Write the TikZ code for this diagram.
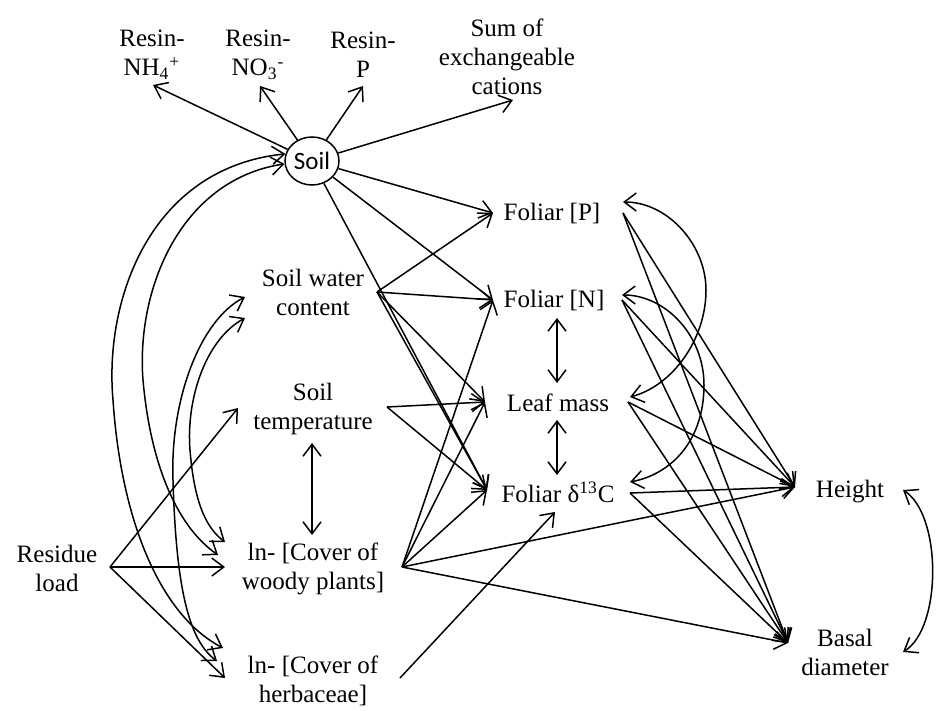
\documentclass[tikz,border=0pt]{standalone}
\usepackage{fontspec}
\setmainfont{Liberation Serif}
\newfontfamily\soilfont{Carlito}
\usetikzlibrary{arrows.meta,shapes.geometric}
\begin{document}
\begin{tikzpicture}[x=0.5pt,y=-0.5pt,
  lbl/.style={align=center,font=\fontsize{12.5}{14.5}\selectfont,inner sep=0pt},
  soilnode/.style={ellipse,draw,line width=0.75pt,minimum width=27pt,minimum height=24pt,inner sep=0pt,font=\soilfont\fontsize{12.5}{14.5}\selectfont},
  arr/.style={line width=0.75pt,-{Straight Barb[length=6pt,width=9pt]}},
  dbl/.style={line width=0.75pt,{Straight Barb[length=6pt,width=9pt]}-{Straight Barb[length=6pt,width=9pt]}}]

\fill[white] (0,0) rectangle (936,711);
\useasboundingbox (0,0) rectangle (936,711);

% ---------- nodes ----------
\node[lbl] (rnh) at (152,55) {Resin-\\NH\textsubscript{4}\textsuperscript{+}};
\node[lbl] (rno) at (258,55) {Resin-\\NO\textsubscript{3}\textsuperscript{-}};
\node[lbl] (rp)  at (363,55) {Resin-\\P};
\node[lbl] (sum) at (507,57) {Sum of\\exchangeable\\cations};
\node[soilnode] (soil) at (312,161) {Soil};

\node[lbl] (swc) at (313,292) {Soil water\\content};
\node[lbl] (st)  at (313,409) {Soil\\temperature};
\node[lbl] (cw)  at (313,569) {ln- [Cover of\\woody plants]};
\node[lbl] (ch)  at (313,681) {ln- [Cover of\\herbaceae]};
\node[lbl] (rl)  at (57,568) {Residue\\load};

\node[lbl] (fp) at (552,213) {Foliar [P]};
\node[lbl] (fn) at (554,300) {Foliar [N]};
\node[lbl] (lm) at (558,403) {Leaf mass};
\node[lbl] (fd) at (558,492) {Foliar δ\textsuperscript{13}C};

\node[lbl] (ht) at (850,492) {Height};
\node[lbl] (bd) at (845,652) {Basal\\diameter};

% ---------- ports ----------
\coordinate (rnh-in) at (153,85);
\coordinate (rno-in) at (260,86);
\coordinate (rp-in)  at (363,86);
\coordinate (sum-in) at (513,100);

\coordinate (fp-in) at (493,213);
\coordinate (fn-in) at (493,300);
\coordinate (lm-in) at (485,402);
\coordinate (fd-in) at (487,490);
\coordinate (fd-bot) at (555,512);

\coordinate (fp-out) at (623,213);
\coordinate (fn-out) at (622,300);
\coordinate (lm-out) at (628,402);
\coordinate (fd-out) at (630,493);
\coordinate (fp-arc) at (623,202);
\coordinate (fn-arc) at (622,295);
\coordinate (lm-arc) at (630,397);
\coordinate (fd-arc) at (630,482);

\coordinate (ht-in) at (795,487);
\coordinate (bd-in) at (788,643);
\coordinate (ht-arc) at (903,490);
\coordinate (bd-arc) at (903,652);

\coordinate (swc-out) at (377,292);
\coordinate (st-out)  at (387,407);
\coordinate (cw-out)  at (402,567);
\coordinate (ch-out)  at (400,678);
\coordinate (rl-out)  at (110,567);

\coordinate (st-in) at (238,408);
\coordinate (cw-in) at (225,567);
\coordinate (ch-in) at (225,678);

\coordinate (swc-a) at (245,297);
\coordinate (swc-b) at (245,318);
\coordinate (cw-a) at (225,542);
\coordinate (cw-b) at (218,555);
\coordinate (ch-a) at (223,648);
\coordinate (ch-b) at (217,661);

\coordinate (fn-dn) at (557,318);
\coordinate (lm-up) at (557,383);
\coordinate (lm-dn) at (557,420);
\coordinate (fd-up) at (557,475);
\coordinate (st-dn) at (312,443);
\coordinate (cw-up) at (312,535);

% ---------- soil outputs ----------
\draw[arr] (soil) -- (rnh-in);
\draw[arr] (soil) -- (rno-in);
\draw[arr] (soil) -- (rp-in);
\draw[arr] (soil) -- (sum-in);
\draw[arr] (soil) -- (fp-in);
\draw[arr] (soil) -- (fn-in);
\draw[arr] (soil) -- (fd-in);

% ---------- soil water content ----------
\draw[arr] (swc-out) -- (fp-in);
\draw[arr] (swc-out) -- (fn-in);
\draw[arr] (swc-out) -- (lm-in);
\draw[arr] (swc-out) -- (fd-in);

% ---------- soil temperature ----------
\draw[arr] (st-out) -- (lm-in);
\draw[arr] (st-out) -- (fd-in);

% ---------- cover of woody plants ----------
\draw[arr] (cw-out) -- (fn-in);
\draw[arr] (cw-out) -- (lm-in);
\draw[arr] (cw-out) -- (fd-in);
\draw[arr] (cw-out) -- (ht-in);
\draw[arr] (cw-out) -- (bd-in);

% ---------- cover of herbaceae ----------
\draw[arr] (ch-out) -- (fd-bot);

% ---------- residue load ----------
\draw[arr] (rl-out) -- (st-in);
\draw[arr] (rl-out) -- (cw-in);
\draw[arr] (rl-out) -- (ch-in);

% ---------- foliar variables to growth ----------
\draw[arr] (fp-out) -- (ht-in);
\draw[arr] (fp-out) -- (bd-in);
\draw[arr] (fn-out) -- (ht-in);
\draw[arr] (fn-out) -- (bd-in);
\draw[arr] (lm-out) -- (ht-in);
\draw[arr] (lm-out) -- (bd-in);
\draw[arr] (fd-out) -- (ht-in);
\draw[arr] (fd-out) -- (bd-in);

% ---------- straight double arrows ----------
\draw[dbl] (fn-dn) -- (lm-up);
\draw[dbl] (lm-dn) -- (fd-up);
\draw[dbl] (st-dn) -- (cw-up);

% ---------- right curved correlations ----------
\draw[dbl] (fp-arc) .. controls (668,202) and (706,245) .. (706,290)
                    .. controls (706,340) and (672,386) .. (lm-arc);
\draw[dbl] (fn-arc) .. controls (665,295) and (704,335) .. (704,385)
                    .. controls (704,440) and (672,474) .. (fd-arc);
\draw[dbl] (ht-arc) .. controls (942,515) and (942,628) .. (bd-arc);

% ---------- left curved correlations ----------
\draw[dbl] (soil.165) .. controls (150,168) and (104,300) .. (113,400)
                      .. controls (121,520) and (160,615) .. (ch-a);
\draw[dbl] (soil.186) .. controls (180,180) and (136,290) .. (143,380)
                      .. controls (150,460) and (175,525) .. (cw-b);
\draw[dbl] (swc-a) .. controls (200,320) and (170,400) .. (173,480)
                   .. controls (176,585) and (188,640) .. (ch-b);
\draw[dbl] (swc-b) .. controls (205,340) and (186,400) .. (190,450)
                   .. controls (194,500) and (205,527) .. (cw-a);

\end{tikzpicture}
\end{document}
